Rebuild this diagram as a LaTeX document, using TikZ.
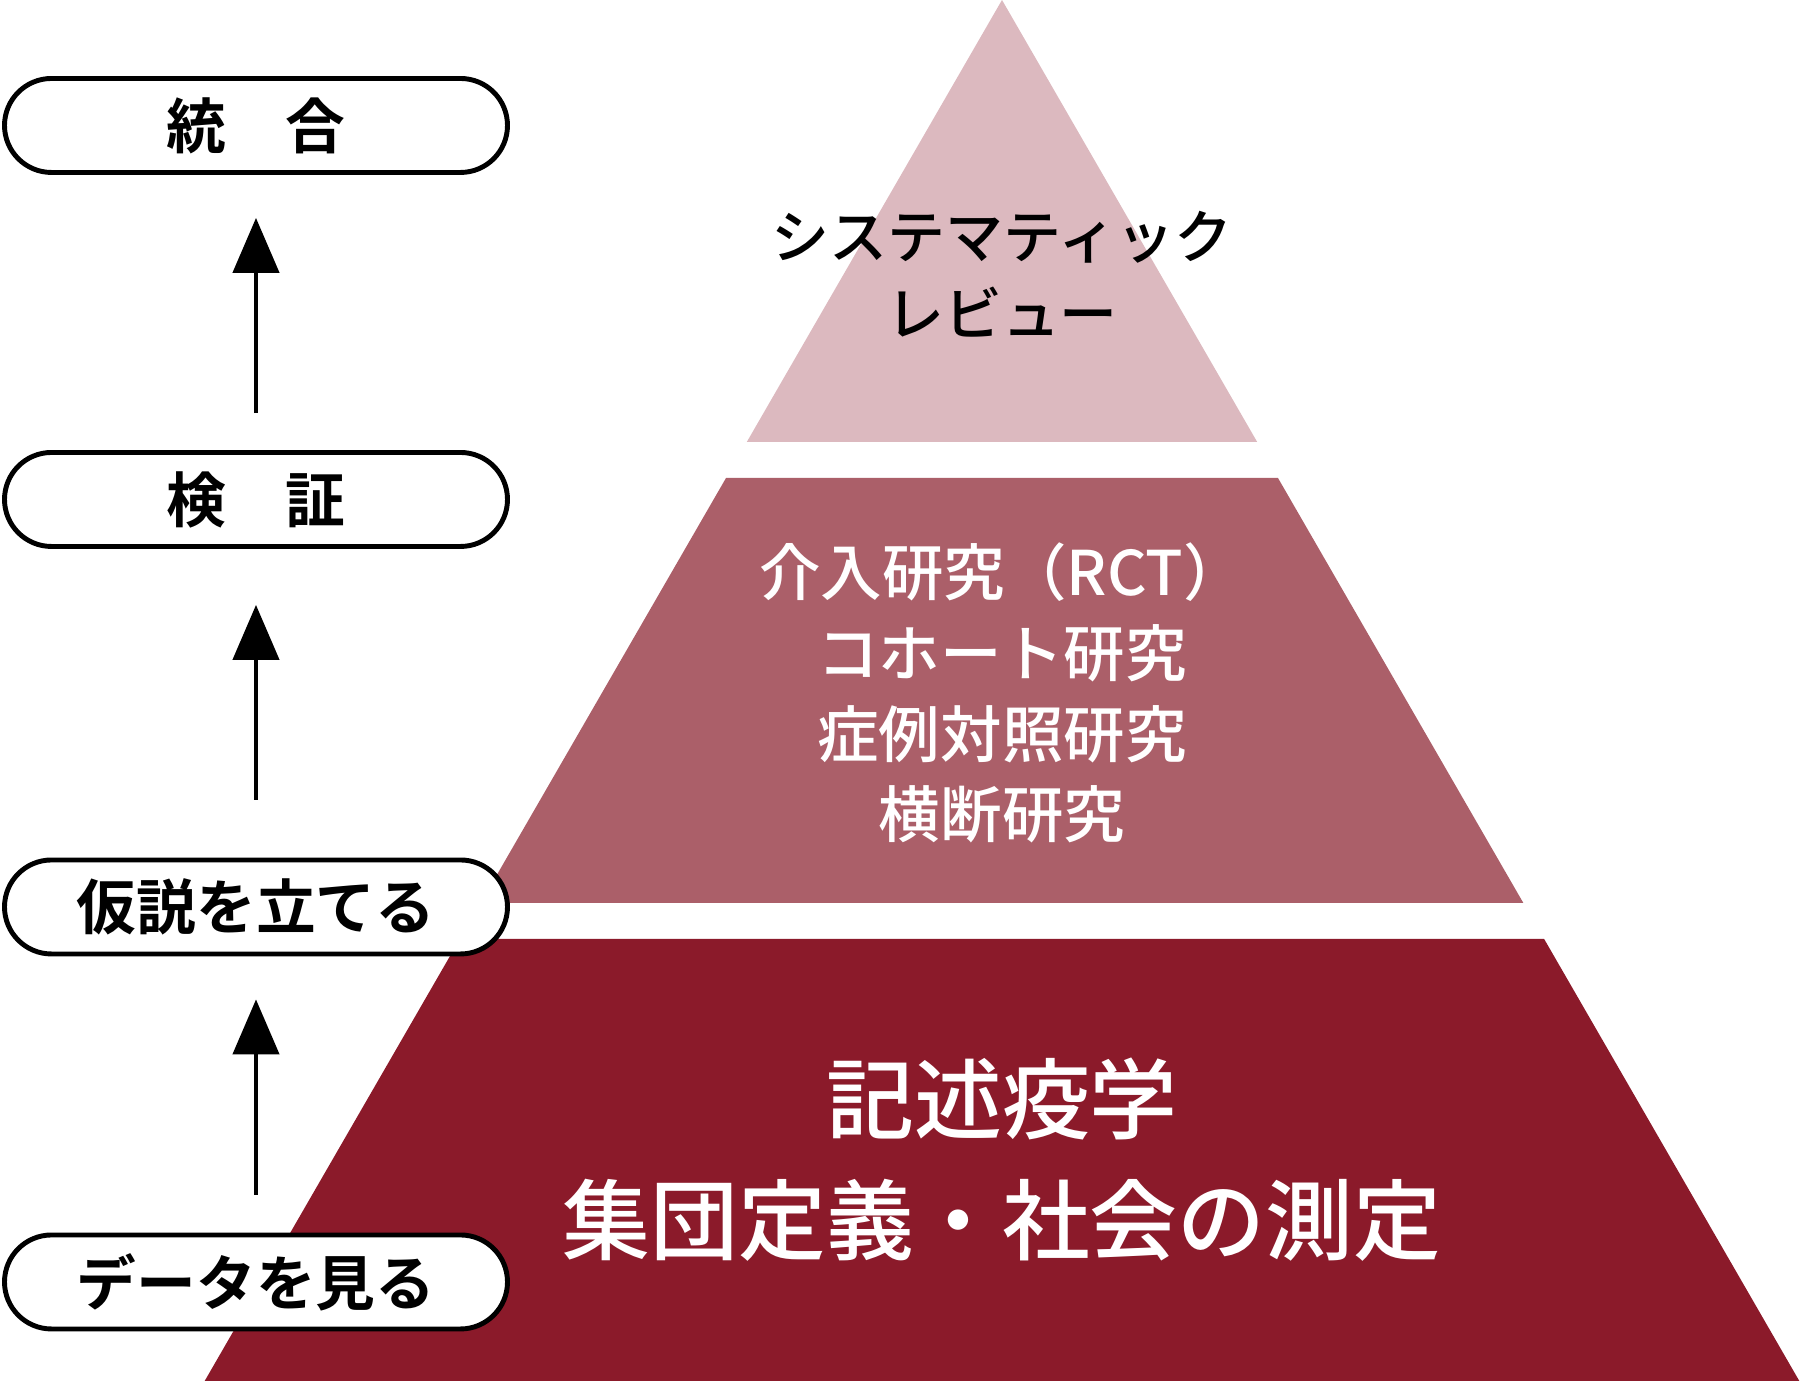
\documentclass[tikz,border=0pt]{standalone}
\usepackage{fontspec}
\usepackage{xcolor}
\usepackage{tikz}
\usetikzlibrary{arrows.meta,calc}
\newfontfamily\jpfont{Noto Sans CJK JP}[BoldFont={* Bold}]
\newfontfamily\jpmedium{Noto Sans CJK JP Medium}
\definecolor{tierpale}{HTML}{DCB9BF}
\definecolor{tierrose}{HTML}{AB5F69}
\definecolor{tierwine}{HTML}{8B1A2A}
\tikzset{
  stagebox/.style={draw=black, fill=white, line width=1.4pt, rounded corners=0.47cm, minimum width=5.03cm, minimum height=0.94cm, inner sep=0pt, font=\jpfont\bfseries\fontsize{17}{20}\selectfont},
  steparrow/.style={black, -{Triangle[length=5.5mm, width=4.6mm]}, line width=1.3pt},
  tiertext/.style={align=center, inner sep=0pt, font=\jpmedium}
}
\begin{document}
\begin{tikzpicture}
  \useasboundingbox (0,0) rectangle (18,13.81);
  % pyramid tiers
  \foreach \ytop/\ybot/\tiercol in {13.81/9.39/tierpale, 9.03/4.78/tierrose, 4.42/0/tierwine}{
    \pgfmathsetmacro{\wtop}{0.57735*(13.81-\ytop)}
    \pgfmathsetmacro{\wbot}{0.57735*(13.81-\ybot)}
    \fill[\tiercol] ({10.02-\wbot},\ybot) -- ({10.02+\wbot},\ybot) -- ({10.02+\wtop},\ytop) -- ({10.02-\wtop},\ytop) -- cycle;
  }
  \node[tiertext, text=black, font=\jpmedium\fontsize{16.5}{22}\selectfont] (review) at (10.02,11.07) {システマティック\\レビュー};
  \node[tiertext, text=white, font=\jpmedium\fontsize{17.5}{23}\selectfont] (analytic) at (10.02,6.88) {介入研究（RCT）\\コホート研究\\症例対照研究\\横断研究};
  \node[tiertext, text=white, font=\jpmedium\fontsize{25}{34.5}\selectfont] (descriptive) at (10.02,2.215) {記述疫学\\集団定義・社会の測定};
  % research steps
  \node[stagebox] (synthesis) at (2.56,12.555) {統　合};
  \node[stagebox] (testing) at (2.56,8.815) {検　証};
  \node[stagebox] (hypothesis) at (2.56,4.74) {仮説を立てる};
  \node[stagebox] (observe) at (2.56,0.99) {データを見る};
  \draw[steparrow, shorten <=0.37cm, shorten >=0.43cm] (testing) -- (synthesis);
  \draw[steparrow, shorten <=0.58cm, shorten >=0.56cm] (hypothesis) -- (testing);
  \draw[steparrow, shorten <=0.38cm, shorten >=0.43cm] (observe) -- (hypothesis);
\end{tikzpicture}
\end{document}
